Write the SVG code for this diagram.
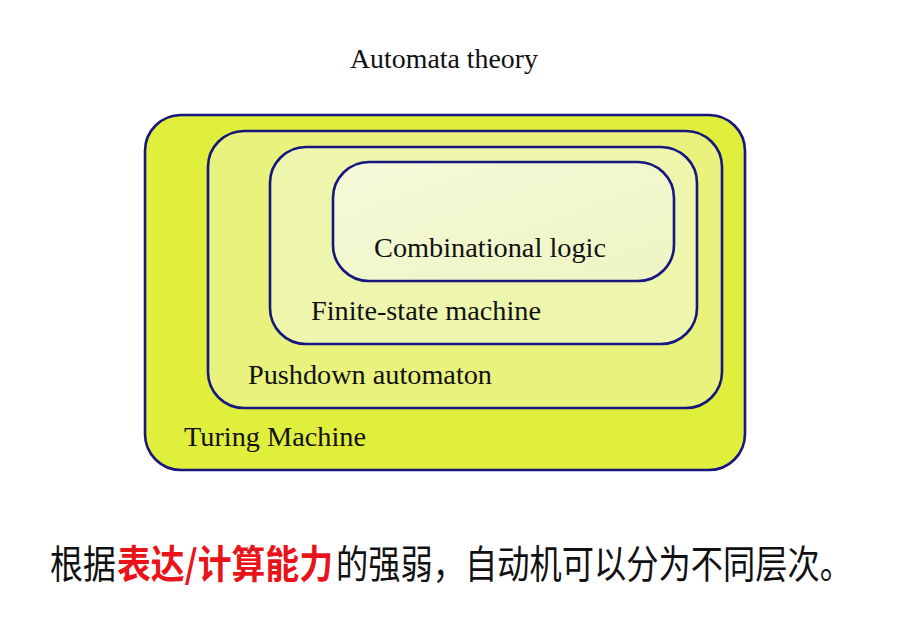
<svg xmlns="http://www.w3.org/2000/svg" width="900" height="628" viewBox="0 0 900 628">
<style>
.box{stroke:#16167e;stroke-width:2.6}
.lbl{font-family:"Liberation Serif","Times New Roman",serif;font-size:28px;fill:#111}
.cn{font-family:"Noto Sans CJK SC","Noto Sans",sans-serif;font-size:32.5px;fill:#111}
.red{fill:#e8141a;font-weight:bold}
</style>
<defs>
<linearGradient id="gIn" x1="0" y1="0" x2="1" y2="1">
<stop offset="0" stop-color="#f5f9da"/>
<stop offset="1" stop-color="#eef5c2"/>
</linearGradient>
</defs>
<rect width="900" height="628" fill="#ffffff"/>
<text id="title" class="lbl" x="350" y="68" textLength="188" lengthAdjust="spacingAndGlyphs">Automata theory</text>
<g id="turing">
<rect class="box" x="145" y="115" width="600" height="355" rx="36" fill="#e0ee3c"/>
<text class="lbl" x="184" y="446" textLength="182" lengthAdjust="spacingAndGlyphs">Turing Machine</text>
</g>
<g id="pushdown">
<rect class="box" x="208" y="131" width="514" height="277" rx="36" fill="#e8f27c"/>
<text class="lbl" x="248" y="384" textLength="244" lengthAdjust="spacingAndGlyphs">Pushdown automaton</text>
</g>
<g id="fsm">
<rect class="box" x="270" y="147" width="427" height="197" rx="36" fill="#eef6ae"/>
<text class="lbl" x="311" y="320" textLength="230" lengthAdjust="spacingAndGlyphs">Finite-state machine</text>
</g>
<g id="comb">
<rect class="box" x="333" y="162" width="341" height="119" rx="36" fill="url(#gIn)"/>
<text class="lbl" x="374" y="257" textLength="232" lengthAdjust="spacingAndGlyphs">Combinational logic</text>
</g>
<g id="connectors"></g>
<g id="caption" transform="translate(0,578) scale(1,1.18)">
<text class="cn" x="50" y="0" textLength="66" lengthAdjust="spacingAndGlyphs">根据</text>
<text class="cn red" x="117" y="0" textLength="216" lengthAdjust="spacingAndGlyphs">表达/计算能力</text>
<text class="cn" x="336" y="0" textLength="516" lengthAdjust="spacingAndGlyphs">的强弱，自动机可以分为不同层次。</text>
</g>
</svg>
